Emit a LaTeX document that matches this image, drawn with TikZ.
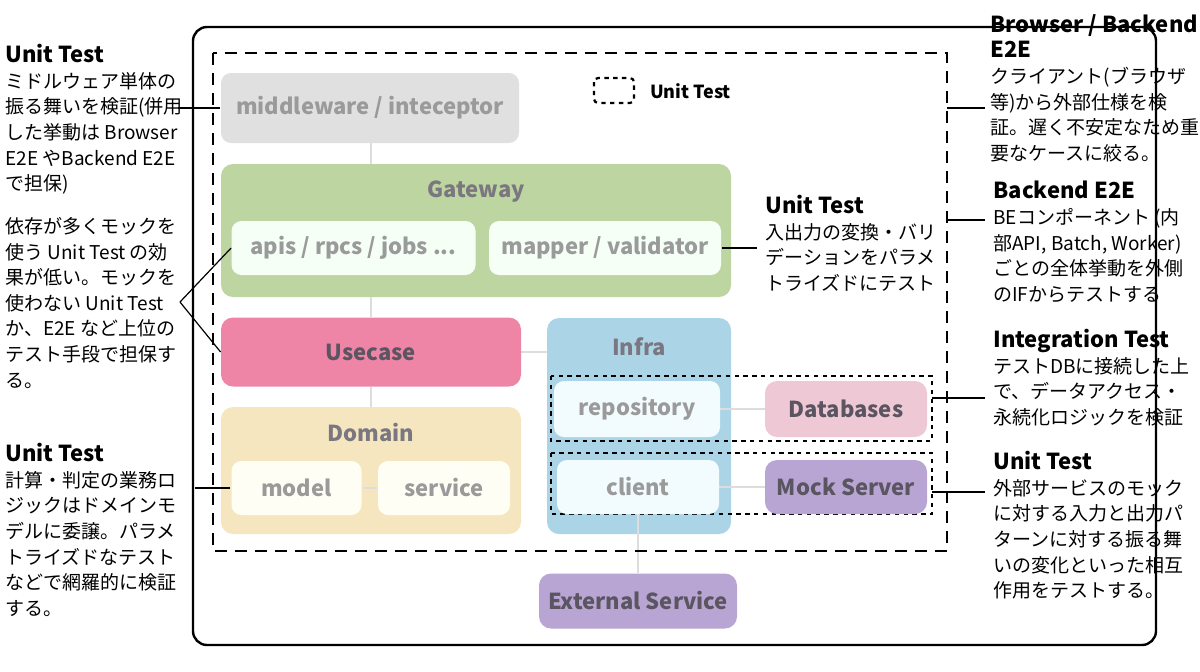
\documentclass[tikz,border=0pt]{standalone}
\usepackage{fontspec}
\setmainfont{Noto Sans CJK JP}
\usetikzlibrary{positioning,backgrounds}
\definecolor{gwgreen}{HTML}{BDD5A0}
\definecolor{ucpink}{HTML}{EE84A6}
\definecolor{infblue}{HTML}{ABD5E6}
\definecolor{dmyellow}{HTML}{F5E6C0}
\definecolor{dbpink}{HTML}{EFC8D5}
\definecolor{mkpurple}{HTML}{B9A5D3}
\definecolor{lbl}{HTML}{5A5560}
\definecolor{sublbl}{HTML}{9A9A9A}
\definecolor{wire}{HTML}{DDDDDD}

\begin{document}
\begin{tikzpicture}[x=0.5pt,y=-0.5pt,
  layer/.style={rounded corners=6pt,text=lbl,font=\fontsize{11}{13}\selectfont\bfseries},
  inner/.style={rounded corners=5pt,text=sublbl,font=\fontsize{11}{13}\selectfont\bfseries},
  unit/.style={dash pattern=on 2.2pt off 2.2pt,line width=1.1pt},
  conn/.style={draw=wire,line width=1.2pt},
  callout/.style={draw=black,line width=0.6pt},
  note/.style={anchor=north west,align=left,inner sep=0pt,font=\fontsize{9.5}{12.8}\selectfont},
  head/.style={font=\fontsize{11}{13}\selectfont\bfseries}]
\useasboundingbox (0,0) rectangle (1200,671);

%frames
\draw[line width=1.2pt,rounded corners=7pt] (193,27) rectangle (1156,645);
\draw[dash pattern=on 6pt off 4pt,line width=1.1pt] (213,53) rectangle (947,551);

%layer labels
\node[layer,text=lbl!80] (gw) at (476,192) {Gateway};
\node[layer,text=lbl!80] (infra) at (639,347) {Infra};
\node[layer,text=lbl!80] (domain) at (371,433) {Domain};

%unit test groups
\draw[unit] (551,376) rectangle (932,441);
\draw[unit] (551,453) rectangle (932,514);

%boxes
\node[inner,unit,fill=black!12,minimum width=149pt,minimum height=35pt] (mw) at (370,108) {middleware / inteceptor};
\node[inner,fill=green!4!white,minimum width=122pt,minimum height=27pt] (api) at (353.5,248) {apis / rpcs / jobs ...};
\node[inner,unit,fill=green!4!white,minimum width=116pt,minimum height=27pt] (mapper) at (605,248) {mapper / validator};
\node[layer,fill=ucpink,minimum width=150pt,minimum height=34.5pt] (uc) at (371,352) {Usecase};
\node[inner,unit,fill=yellow!4!white,minimum width=65pt,minimum height=27pt] (model) at (296.5,488) {model};
\node[inner,unit,fill=yellow!4!white,minimum width=66pt,minimum height=27pt] (service) at (444,488) {service};
\node[inner,fill=cyan!5!white,minimum width=83pt,minimum height=28pt] (repo) at (637,409) {repository};
\node[inner,fill=cyan!5!white,minimum width=81pt,minimum height=27pt] (client) at (638,487) {client};
\node[layer,fill=dbpink,minimum width=81pt,minimum height=28pt] (db) at (846,409) {Databases};
\node[layer,fill=mkpurple,minimum width=81pt,minimum height=27pt] (mock) at (846,487) {Mock Server};
\node[layer,fill=mkpurple,minimum width=99pt,minimum height=27.5pt] (ext) at (638,601) {External Service};

%legend
\draw[unit,rounded corners=2pt] (594,78) rectangle (634,103);
\node[anchor=west,font=\fontsize{9}{11}\selectfont\bfseries] (legend) at (643,91) {Unit Test};

%layer fills and wires
\begin{scope}[on background layer]
\path[fill=gwgreen,rounded corners=6pt] (221,164) rectangle (731,297);
\path[fill=infblue,rounded corners=6pt] (547,318) rectangle (731,534);
\path[fill=dmyellow,rounded corners=6pt] (221,407) rectangle (521,534);
\draw[conn] (371,143) -- (371,164);
\draw[conn] (371,297) -- (uc.north);
\draw[conn] (uc.south) -- (371,407);
\draw[conn] (uc.east) -- (547,352);
\draw[conn] (repo) -- (db);
\draw[conn] (client) -- (mock);
\draw[conn] (client) -- (ext);
\draw[conn] (model) -- (service);
\end{scope}

%left notes
\node[note] (n1) at (5,44) {{\fontsize{11}{13}\selectfont\bfseries Unit Test}\\ミドルウェア単体の\\振る舞いを検証(併用\\した挙動は Browser\\E2E やBackend E2E\\で担保)};
\node[note] (n2) at (5,217) {依存が多くモックを\\使う Unit Test の効\\果が低い。モックを\\使わない Unit Test\\か、E2E など上位の\\テスト手段で担保す\\る。};
\node[note] (n3) at (5,443) {{\fontsize{11}{13}\selectfont\bfseries Unit Test}\\計算・判定の業務ロ\\ジックはドメインモ\\デルに委譲。パラメ\\トライズドなテスト\\などで網羅的に検証\\する。};

%right notes
\node[note] (n4) at (990,14) {{\fontsize{11}{13}\selectfont\bfseries Browser / Backend}\\{\fontsize{11}{13}\selectfont\bfseries E2E}\\クライアント(ブラウザ\\等)から外部仕様を検\\証。遅く不安定なため重\\要なケースに絞る。};
\node[note] (n5) at (765,195) {{\fontsize{11}{13}\selectfont\bfseries Unit Test}\\入出力の変換・バリ\\デーションをパラメ\\トライズドにテスト};
\node[note] (n6) at (993,181) {{\fontsize{11}{13}\selectfont\bfseries Backend E2E}\\BEコンポーネント (内\\部API, Batch, Worker)\\ごとの全体挙動を外側\\のIFからテストする};
\node[note] (n7) at (993,329) {{\fontsize{11}{13}\selectfont\bfseries Integration Test}\\テストDBに接続した上\\で、データアクセス・\\永続化ロジックを検証};
\node[note] (n8) at (993,451) {{\fontsize{11}{13}\selectfont\bfseries Unit Test}\\外部サービスのモック\\に対する入力と出力パ\\ターンに対する振る舞\\いの変化といった相互\\作用をテストする。};

%callouts
\coordinate (c1) at (178,108);
\coordinate (c2) at (180,302);
\coordinate (c3) at (195,488);
\draw[callout] (c1) -- (mw.west);
\draw[callout] (c2) -- (api.west);
\draw[callout] (c2) -- (uc.west);
\draw[callout] (c3) -- (model.west);
\draw[callout] (mapper.east) -- (757,248);
\draw[callout] (947,108) -- (985,108);
\draw[callout] (947,220) -- (985,220);
\draw[callout] (932,398) -- (985,398);
\draw[callout] (932,492) -- (985,492);
\end{tikzpicture}
\end{document}
